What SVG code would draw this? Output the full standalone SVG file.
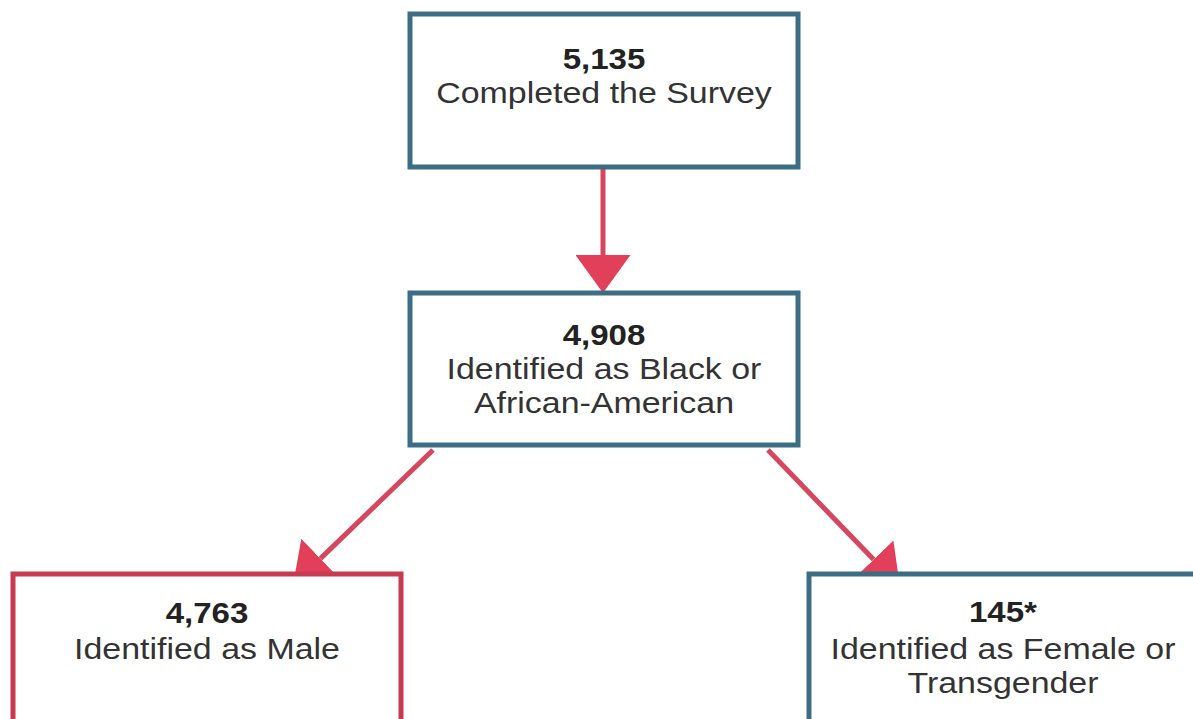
<svg xmlns="http://www.w3.org/2000/svg" width="1193" height="719" viewBox="0 0 1193 719">
  <style>
    .box { fill: #ffffff; stroke-width: 5; }
    .teal { stroke: #3b6e84; }
    .red { stroke: #c83a50; }
    .num { font-family: "Liberation Sans", Arial, sans-serif; font-weight: bold; font-size: 29px; fill: #222222; text-anchor: middle; }
    .lbl { font-family: "Liberation Sans", Arial, sans-serif; font-size: 29px; fill: #333333; text-anchor: middle; }
    .conn { stroke: #d6465f; stroke-width: 5; fill: none; }
  </style>
  <defs>
    <marker id="head" viewBox="0 0 38 55" refX="0" refY="27.5" markerWidth="38" markerHeight="55" markerUnits="userSpaceOnUse" orient="auto">
      <path d="M0,0 L38,27.5 L0,55 Z" fill="#e2405a"/>
    </marker>
  </defs>
  <rect width="1193" height="719" fill="#ffffff"/>

  <g id="connectors">
    <line class="conn" x1="603" y1="168" x2="603" y2="255" marker-end="url(#head)"/>
    <line class="conn" x1="433" y1="450" x2="320.4" y2="558.6" marker-end="url(#head)"/>
    <line class="conn" x1="768" y1="450" x2="873.6" y2="559.6" marker-end="url(#head)"/>
  </g>

  <g id="node-completed">
    <rect class="box teal" x="410" y="14" width="388" height="153"/>
    <text class="num" x="604" y="69" transform="matrix(1.14 0 0 1 -84.56 0)">5,135</text>
    <text class="lbl" x="604" y="103" transform="matrix(1.17 0 0 1 -102.68 0)">Completed the Survey</text>
  </g>

  <g id="node-black">
    <rect class="box teal" x="410" y="293" width="388" height="152"/>
    <text class="num" x="604" y="345" transform="matrix(1.14 0 0 1 -84.56 0)">4,908</text>
    <text class="lbl" x="604" y="379" transform="matrix(1.17 0 0 1 -102.68 0)">Identified as Black or</text>
    <text class="lbl" x="604" y="413" transform="matrix(1.17 0 0 1 -102.68 0)">African-American</text>
  </g>

  <g id="node-male">
    <rect class="box red" x="13" y="574" width="388" height="160"/>
    <text class="num" x="207" y="623" transform="matrix(1.14 0 0 1 -28.98 0)">4,763</text>
    <text class="lbl" x="207" y="659" transform="matrix(1.17 0 0 1 -35.19 0)">Identified as Male</text>
  </g>

  <g id="node-female">
    <rect class="box teal" x="809" y="574" width="388" height="160"/>
    <text class="num" x="1003" y="622" transform="matrix(1.14 0 0 1 -140.42 0)">145*</text>
    <text class="lbl" x="1003" y="659" transform="matrix(1.17 0 0 1 -170.51 0)">Identified as Female or</text>
    <text class="lbl" x="1003" y="693" transform="matrix(1.17 0 0 1 -170.51 0)">Transgender</text>
  </g>
</svg>
